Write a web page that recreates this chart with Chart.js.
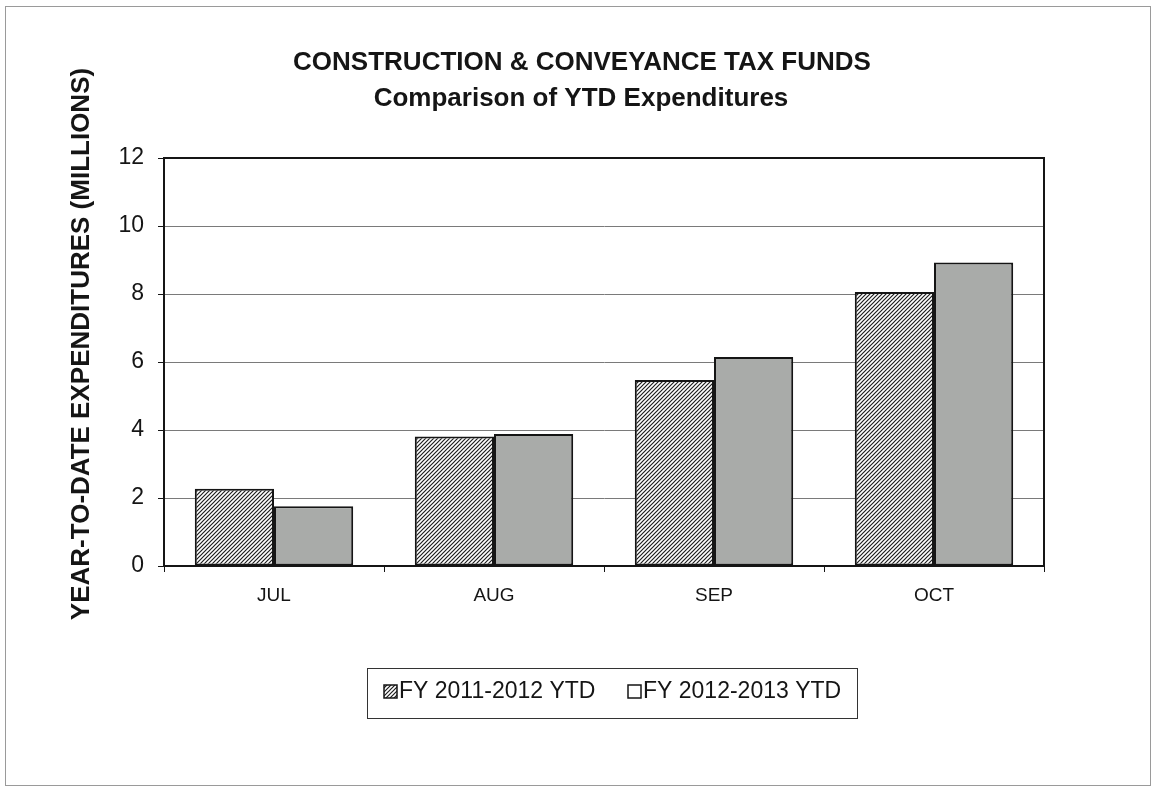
<!DOCTYPE html>
<html>
<head>
<meta charset="utf-8">
<script src="https://cdn.jsdelivr.net/npm/chart.js@4/dist/chart.umd.min.js"></script>
<style>
  body { margin: 0; background: #fff; }
  #wrap { position: relative; width: 1155px; height: 790px; }
  #frame { position: absolute; left: 5px; top: 6px; right: 4px; bottom: 4px; border: 1px solid #9a9a9a; pointer-events: none; }
</style>
</head>
<body>
<div id="wrap">
  <canvas id="ytdChart" width="1155" height="790"></canvas>
  <div id="frame"></div>
</div>
<script>
const months = ['JUL', 'AUG', 'SEP', 'OCT'];
const fy2012 = [2.27, 3.81, 5.47, 8.06];
const fy2013 = [1.76, 3.88, 6.15, 8.93];
const seriesNames = ['FY 2011-2012 YTD', 'FY 2012-2013 YTD'];
const yTicks = [0, 2, 4, 6, 8, 10, 12];

const FONT = "'Liberation Sans', Arial, sans-serif";
const INK = '#151515';

// diagonal hatch used for the first fiscal year
function makeHatch() {
  const s = 4;
  const c = document.createElement('canvas');
  c.width = s; c.height = s;
  const g = c.getContext('2d');
  g.fillStyle = '#fff';
  g.fillRect(0, 0, s, s);
  g.strokeStyle = '#1e1e1e';
  g.lineWidth = 1.2;
  g.beginPath();
  g.moveTo(0, s); g.lineTo(s, 0);
  g.moveTo(-1, 1); g.lineTo(1, -1);
  g.moveTo(s - 1, s + 1); g.lineTo(s + 1, s - 1);
  g.stroke();
  return g.createPattern(c, 'repeat');
}

const ctx = document.getElementById('ytdChart').getContext('2d');
const hatch = makeHatch();
const grayFill = '#a9aba9';

// titles, axis title, plot frame and boxed legend
const decorations = {
  id: 'decorations',
  afterDraw(chart) {
    const c = chart.ctx;
    const a = chart.chartArea;
    c.save();

    c.strokeStyle = INK;
    c.lineWidth = 2;
    c.strokeRect(a.left, a.top, a.right - a.left, a.bottom - a.top);

    c.fillStyle = INK;
    c.textAlign = 'center';
    c.textBaseline = 'middle';
    c.font = 'bold 26px ' + FONT;
    c.fillText('CONSTRUCTION & CONVEYANCE TAX FUNDS', 582, 63);
    c.fillText('Comparison of YTD Expenditures', 581, 99);

    c.save();
    c.translate(82, 344);
    c.rotate(-Math.PI / 2);
    c.fillText('YEAR-TO-DATE EXPENDITURES (MILLIONS)', 0, 0);
    c.restore();

    // legend box
    const bx = 367, by = 668, bw = 490, bh = 50;
    c.lineWidth = 1;
    c.strokeStyle = '#333';
    c.strokeRect(bx + 0.5, by + 0.5, bw, bh);

    c.font = '23px ' + FONT;
    c.textAlign = 'left';
    const fills = [hatch, '#fff'];
    const xs = [384, 628];
    seriesNames.forEach((name, i) => {
      const x = xs[i], y = 685;
      c.fillStyle = fills[i];
      c.fillRect(x, y, 13, 13);
      c.strokeStyle = INK;
      c.lineWidth = 1.5;
      c.strokeRect(x, y, 13, 13);
      c.fillStyle = INK;
      c.fillText(name, x + 15, 692);
    });
    c.restore();
  }
};

new Chart(ctx, {
  type: 'bar',
  data: {
    labels: months,
    datasets: [{
      label: seriesNames[0],
      data: fy2012,
      backgroundColor: hatch,
      borderColor: INK,
      borderWidth: 2,
      borderSkipped: false
    }, {
      label: seriesNames[1],
      data: fy2013,
      backgroundColor: grayFill,
      borderColor: INK,
      borderWidth: 2,
      borderSkipped: false
    }]
  },
  options: {
    responsive: false,
    animation: false,
    devicePixelRatio: 1,
    categoryPercentage: 0.72,
    barPercentage: 1,
    layout: { padding: { top: 158, right: 111, bottom: 0, left: 0 } },
    plugins: {
      legend: { display: false },
      title: { display: false },
      tooltip: { enabled: false }
    },
    scales: {
      x: {
        grid: { drawOnChartArea: false, drawTicks: true, tickLength: 6, color: INK, offset: true },
        border: { color: INK, width: 2 },
        ticks: { color: INK, font: { family: FONT, size: 19 }, padding: 12 },
        afterFit(scale) { scale.height = 224; }
      },
      y: {
        min: 0,
        max: 12,
        afterBuildTicks(scale) { scale.ticks = yTicks.map(v => ({ value: v })); },
        grid: { color: '#7a7a7a', lineWidth: 1, tickLength: 6, tickColor: INK },
        border: { color: INK, width: 2 },
        ticks: { color: INK, font: { family: FONT, size: 23 }, padding: 14 },
        afterFit(scale) { scale.width = 164; }
      }
    }
  },
  plugins: [decorations]
});
</script>
</body>
</html>
